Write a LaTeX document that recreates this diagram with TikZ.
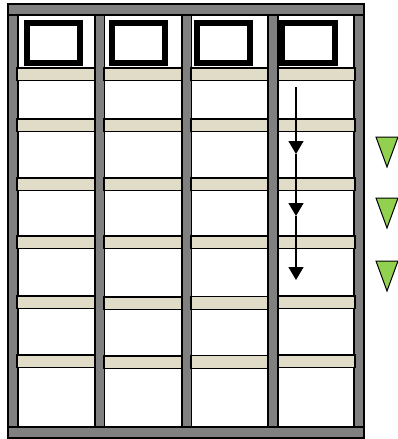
\documentclass[tikz,border=0pt]{standalone}
\usepackage{xcolor}
\usepackage{tikz}
\usetikzlibrary{arrows.meta, calc}

\definecolor{postgray}{RGB}{128,128,128}
\definecolor{shelfbeige}{RGB}{224,220,200}
\definecolor{leafgreen}{RGB}{146,208,80}

\begin{document}
\begin{tikzpicture}[x=1pt, y=-1pt,
    post/.style={draw=black, fill=postgray, line width=1.1pt},
    shelf/.style={draw=black, fill=shelfbeige, line width=1.2pt},
    window/.style={draw=black, fill=white, line width=6pt},
    flow/.style={-{Triangle[width=15pt, length=13pt]}, line width=1.3pt},
    marker/.style={draw=black, fill=leafgreen, line width=1pt, line join=miter}]
\useasboundingbox (0,0) rectangle (398,439);

% Posts
\foreach \x/\w in {8/10, 95/9.5, 182/9.5, 268/10, 354/10} {
   \draw[post] (\x,15) rectangle ++(\w,412);
}

% Top and bottom bars
\draw[post] (8,4) rectangle (364,15);
\draw[post] (8,427) rectangle (364,438);

% Windows
\foreach \x in {26.5, 111.5, 197, 282} {
   \draw[window] (\x,23) rectangle ++(53,40);
}

% Shelves (column left edge / right edge)
\foreach \a/\b/\d in {17/95/0, 104/182/1, 191/268/0.8, 278/355/0} {
   \foreach \y in {68, 119, 178, 236} {
      \draw[shelf] (\a,\y) rectangle (\b,\y+12.5);
   }
   \draw[shelf] (\a,296+\d) rectangle (\b,308.5+\d);
   \draw[shelf] (\a,355+\d) rectangle (\b,367.5+\d);
}

% Flow down the last column
\coordinate (f0) at (296,87);
\coordinate (f1) at (296,154);
\coordinate (f2) at (296,216);
\coordinate (f3) at (296,280);
\draw[flow] (f0) -- (f1);
\draw[flow] (f1) -- (f2);
\draw[flow] (f2) -- (f3);

% Green markers
\foreach \y in {137, 198, 261} {
   \draw[marker] (376,\y) -- (398,\y) -- (387,\y+30) -- cycle;
}
\end{tikzpicture}
\end{document}
